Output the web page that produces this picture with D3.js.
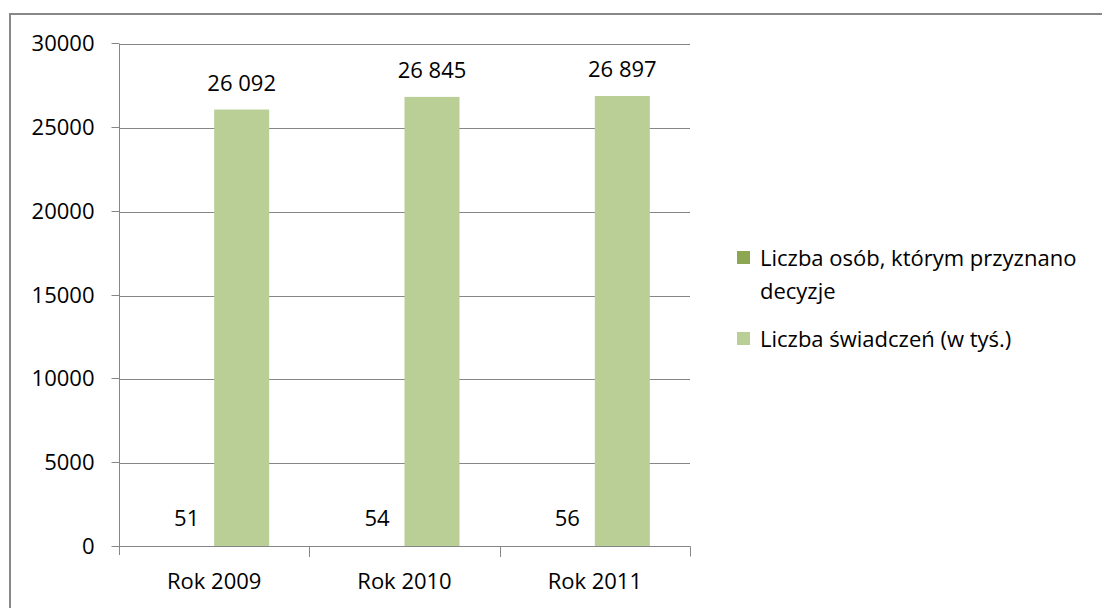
<!DOCTYPE html>
<html><head><meta charset="utf-8">
<script src="https://cdn.jsdelivr.net/npm/d3@7"></script>
<style>body{margin:0;background:#fff}svg{display:block}text{font-family:"Open Sans",sans-serif;fill:#000}</style>
</head><body>
<svg id="c" width="1102" height="608"></svg>
<script>
const categories = ["Rok 2009", "Rok 2010", "Rok 2011"];
const seriesNames = ["Liczba osób, którym przyznano decyzje", "Liczba świadczeń (w tyś.)"];
const persons = [51, 54, 56];
const benefits = [26092, 26845, 26897];
const benefitLabels = ["26 092", "26 845", "26 897"];
const yTicks = [0, 5000, 10000, 15000, 20000, 25000, 30000];
const colors = ["#8BA752", "#BACF95"];

const svg = d3.select("#c");
const fs = 22;
const FF = "Open Sans";
// frame
svg.append("line").attr("x1",10).attr("x2",1102).attr("y1",14).attr("y2",14).attr("stroke","#888").attr("stroke-width",2);
svg.append("line").attr("x1",10).attr("x2",10).attr("y1",13).attr("y2",608).attr("stroke","#888").attr("stroke-width",2);

const x0 = 119, x1 = 690, yb = 547, yt = 44;
const x = d3.scaleBand().domain(categories).range([x0, x1]).paddingInner(0).paddingOuter(0);
const y = d3.scaleLinear().domain([0, 30000]).range([yb, yt]);
const barW = 55;

// gridlines
svg.append("g").selectAll("line").data(yTicks.filter(d=>d>0)).join("line")
  .attr("x1", x0).attr("x2", x1).attr("y1", d=>Math.round(y(d))+0.5).attr("y2", d=>Math.round(y(d))+0.5)
  .attr("stroke","#868686").attr("stroke-width",1);

// bars
const cx = d => x(d) + x.bandwidth()/2;
svg.append("g").selectAll("rect").data(categories).join("rect")
  .attr("x", d=>cx(d)-barW).attr("width", barW)
  .attr("y", (d,i)=>y(persons[i])).attr("height",(d,i)=>yb - y(persons[i]))
  .attr("fill", colors[0]);
svg.append("g").selectAll("rect").data(categories).join("rect")
  .attr("x", d=>cx(d)).attr("width", barW)
  .attr("y", (d,i)=>y(benefits[i])).attr("height",(d,i)=>yb - y(benefits[i]))
  .attr("fill", colors[1]);

// y axis
const ya = svg.append("g").attr("transform",`translate(${x0+0.5},0)`)
  .call(d3.axisLeft(y).tickValues(yTicks).tickFormat(d3.format("d")).tickSize(8).tickPadding(17));
ya.select(".domain").attr("stroke","#868686").attr("d",`M0,${yt}V${yb+8}`);
ya.selectAll(".tick line").attr("stroke","#868686");
ya.selectAll(".tick text").attr("font-size",fs).attr("font-family",FF).attr("fill","#000").attr("dy","0.35em");
ya.selectAll(".tick").attr("transform", d=>`translate(0,${Math.round(y(d))-0.5})`);

// x axis
const xa = svg.append("g").attr("transform",`translate(0,${yb-0.5})`)
  .call(d3.axisBottom(x).tickSize(0).tickPadding(27));
xa.select(".domain").attr("stroke","#868686").attr("d",`M${x0},0H${x1+0.5}V10`);
xa.selectAll(".tick text").attr("font-size",fs).attr("font-family",FF).attr("fill","#000");
svg.append("g").selectAll("line").data(categories.slice(1)).join("line")
  .attr("x1", d=>Math.round(x(d))+0.5).attr("x2", d=>Math.round(x(d))+0.5)
  .attr("y1", yb).attr("y2", yb+10).attr("stroke","#868686");

// labels
svg.append("g").selectAll("text").data(categories).join("text")
  .attr("x", d=>cx(d)-barW/2).attr("y",(d,i)=>y(persons[i])-20)
  .attr("text-anchor","middle").attr("font-size",fs).text((d,i)=>persons[i]);
svg.append("g").selectAll("text").data(categories).join("text")
  .attr("x", d=>cx(d)+barW/2).attr("y",(d,i)=>y(benefits[i])-19)
  .attr("text-anchor","middle").attr("font-size",fs).text((d,i)=>benefitLabels[i]);

// legend
const lg = svg.append("g");
lg.append("rect").attr("x",737).attr("y",251).attr("width",13).attr("height",13).attr("fill",colors[0]);
lg.append("text").attr("x",760).attr("y",266).attr("font-size",fs).text("Liczba osób, którym przyznano");
lg.append("text").attr("x",760).attr("y",299).attr("font-size",fs).text("decyzje");
lg.append("rect").attr("x",737).attr("y",332).attr("width",13).attr("height",13).attr("fill",colors[1]);
lg.append("text").attr("x",760).attr("y",347).attr("font-size",fs).text("Liczba świadczeń (w tyś.)");
</script>
</body></html>
